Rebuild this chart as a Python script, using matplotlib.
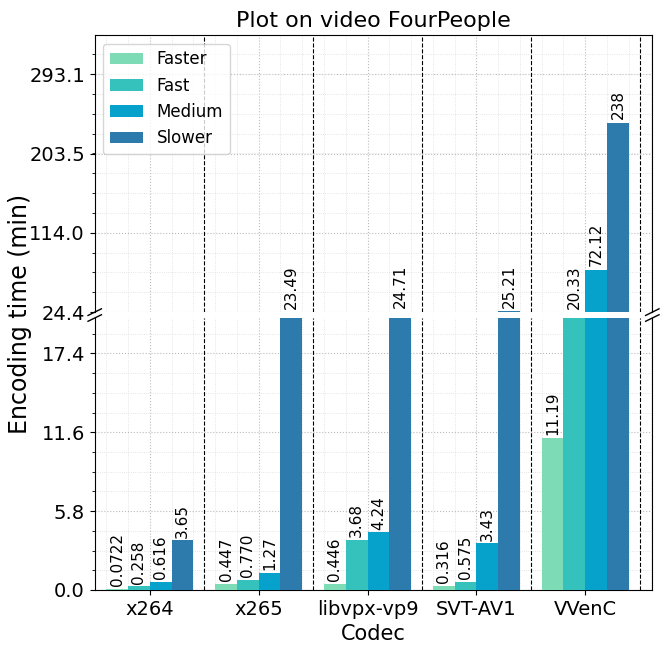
import matplotlib
matplotlib.use("Agg")
import matplotlib.pyplot as plt
import numpy as np

codecs = ["x264", "x265", "libvpx-vp9", "SVT-AV1", "VVenC"]
presets = ["Faster", "Fast", "Medium", "Slower"]
values = {
    "Faster": [0.0722, 0.447, 0.446, 0.316, 11.19],
    "Fast":   [0.258, 0.770, 3.68, 0.575, 20.33],
    "Medium": [0.616, 1.27, 4.24, 3.43, 72.12],
    "Slower": [3.65, 23.49, 24.71, 25.21, 238],
}
labels = {
    "Faster": ["0.0722", "0.447", "0.446", "0.316", "11.19"],
    "Fast":   ["0.258", "0.770", "3.68", "0.575", "20.33"],
    "Medium": ["0.616", "1.27", "4.24", "3.43", "72.12"],
    "Slower": ["3.65", "23.49", "24.71", "25.21", "238"],
}
colors = ["#7ddcb6", "#35c2bd", "#06a2cc", "#2d7bac"]
top_ticks = [24.4, 114.0, 203.5, 293.1]
bot_ticks = [0.0, 5.8, 11.6, 17.4]

fig = plt.figure(figsize=(6.67, 6.53), dpi=100)
axt = fig.add_axes([0.142, 0.522, 0.836, 0.424])
axb = fig.add_axes([0.142, 0.0965, 0.836, 0.4165])
bot_lim = (0, 20.0)
top_lim = (24.4, 337)
x = np.arange(len(codecs))
w = 0.2
for i, p in enumerate(presets):
    xs = x + (i - 1.5) * w
    for ax in (axt, axb):
        ax.bar(xs, values[p], w, color=colors[i], label=p if ax is axt else None, zorder=3)
    for xi, v, lab in zip(xs, values[p], labels[p]):
        if v <= bot_lim[1]:
            axb.text(xi, v + 0.2, lab, rotation=90, ha="center", va="bottom", fontsize=11)
        else:
            axt.text(xi, max(v, top_lim[0]) + 4, lab, rotation=90, ha="center", va="bottom", fontsize=11, clip_on=False)

for ax in (axt, axb):
    ax.set_xlim(-0.506, 4.616)
    for b in np.arange(0.5, 5, 1):
        ax.axvline(b, color="k", ls="--", lw=0.8, zorder=4)
    ax.minorticks_on()
    ax.grid(True, which="major", ls=":", color="#bbbbbb", lw=0.8, zorder=0)
    ax.grid(True, which="minor", ls=":", color="#dddddd", lw=0.6, zorder=0)
    ax.tick_params(axis="both", labelsize=14)
    ax.tick_params(axis="x", which="minor", bottom=False, top=False)

axt.set_ylim(*top_lim)
axt.set_yticks(top_ticks)
axt.set_yticklabels([f"{t:.1f}" for t in top_ticks])
axt.spines["bottom"].set_visible(False)
axt.tick_params(axis="x", which="both", bottom=False, labelbottom=False)
axt.set_title("Plot on video FourPeople", fontsize=16)
axt.legend(loc="upper left", fontsize=12)

axb.set_ylim(*bot_lim)
axb.set_yticks(bot_ticks)
axb.set_yticklabels([f"{t:.1f}" for t in bot_ticks])
axb.spines["top"].set_visible(False)
axb.set_xticks(x)
axb.set_xticklabels(codecs)
axb.set_xlabel("Codec", fontsize=15)

d = 0.012
kw = dict(color="k", clip_on=False, lw=1)
axt.plot([-d, d], [-d, d], transform=axt.transAxes, **kw)
axt.plot([1 - d, 1 + d], [-d, d], transform=axt.transAxes, **kw)
axb.plot([-d, d], [1 - d, 1 + d], transform=axb.transAxes, **kw)
axb.plot([1 - d, 1 + d], [1 - d, 1 + d], transform=axb.transAxes, **kw)

fig.text(0.03, 0.52, "Encoding time (min)", rotation=90, va="center", ha="center", fontsize=17)
fig.savefig("out.png", dpi=100)
